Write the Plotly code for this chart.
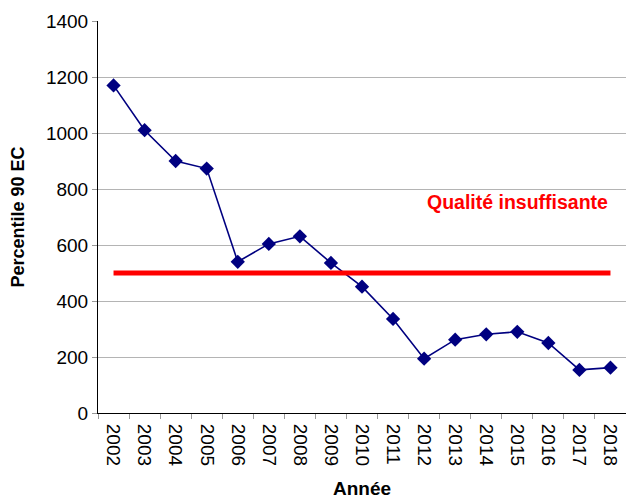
import plotly.graph_objects as go

years = [str(y) for y in range(2002, 2019)]
values = [1170, 1010, 900, 873, 540, 604, 631, 536, 451, 336, 194, 262, 281, 290, 250, 154, 162]
threshold = 500
threshold_label = "Qualité insuffisante"
label_y = 754

FONT = "Liberation Sans, Arial, sans-serif"

fig = go.Figure()
fig.add_trace(go.Scatter(
    x=years, y=values, mode="lines+markers",
    line=dict(color="#000080", width=1.6),
    marker=dict(symbol="diamond", size=11, color="#000080"),
    showlegend=False))
fig.add_trace(go.Scatter(
    x=[years[0], years[-1]], y=[threshold, threshold], mode="lines",
    line=dict(color="#ff0000", width=5), hoverinfo="skip", showlegend=False))

fig.add_annotation(x=len(years) - 1, y=label_y, xref="x", yref="y", text="<b>" + threshold_label + "</b>",
                   showarrow=False, xanchor="right", yanchor="middle", xshift=0,
                   font=dict(family=FONT, size=19.5, color="#ff0000"))

fig.update_layout(
    width=626, height=499,
    margin=dict(l=98, r=0, t=21, b=86),
    paper_bgcolor="white", plot_bgcolor="white",
    font=dict(family=FONT, size=18, color="black"),
    xaxis=dict(type="category", categoryorder="array", categoryarray=years,
               range=[-0.5, 16.5], tickangle=90, automargin=False,
               showgrid=False, showline=True, linecolor="black", linewidth=1,
               ticks="outside", tickson="boundaries", ticklen=5, tickcolor="#999999",
               ticklabelstandoff=6,
               tickfont=dict(size=19),
               title=dict(text="<b>Année</b>", font=dict(size=19), standoff=22)),
    yaxis=dict(range=[0, 1400], dtick=200, showgrid=True, gridcolor="#b4b4b4", gridwidth=1,
               showline=True, linecolor="black", linewidth=1, zeroline=False, automargin=False,
               ticks="outside", ticklen=5, tickcolor="#999999",
               tickfont=dict(size=19),
               title=dict(text="<b>Percentile 90 EC</b>", font=dict(size=18), standoff=16)),
)

fig.write_html("out.html", post_script="document.body.style.margin='0';",
               config={"displayModeBar": False})
